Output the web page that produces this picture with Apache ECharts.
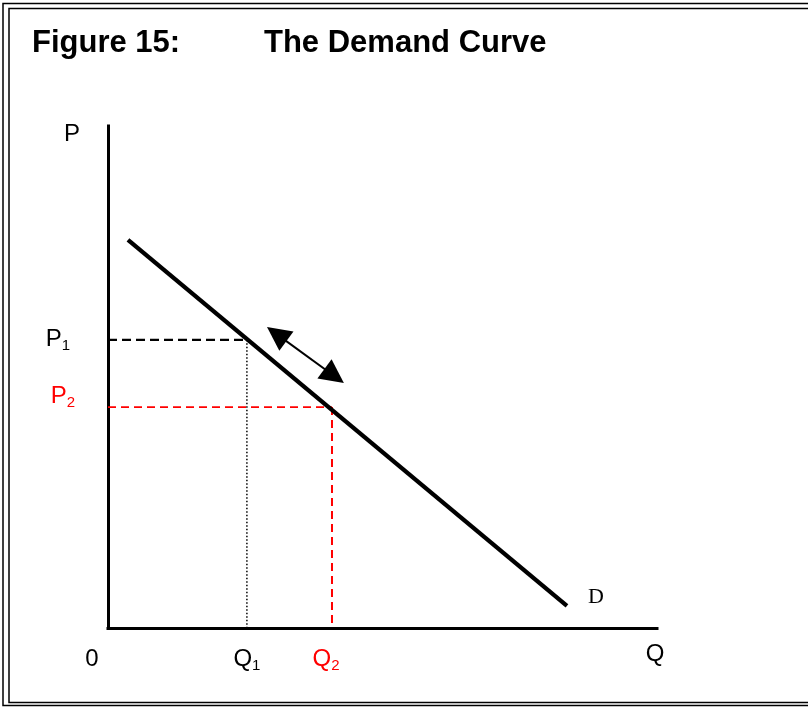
<!DOCTYPE html>
<html>
<head>
<meta charset="utf-8">
<script src="https://cdn.jsdelivr.net/npm/echarts@6/dist/echarts.min.js"></script>
<style>
  html, body { margin: 0; padding: 0; background: #fff; }
  #chart { width: 808px; height: 707px; }
</style>
</head>
<body>
<div id="chart"></div>
<script>
// ---- data (chart units: quantity 0..100, price 0..100) ----
const titleNumber = 'Figure 15:';
const titleText = 'The Demand Curve';
const demandQ = [3.64, 83.6];
const demandP = [77.3, 4.4];
const curveName = 'D';
const P1 = 57.4, Q1 = 25.3;
const P2 = 44.0, Q2 = 40.8;
const arrowQ = [30.73, 41.2];
const arrowP = [58.55, 50.2];
const xTickValues = [0, Q1, Q2];
const xTickLabels = ['{z|0}', '{q|Q}{qs|1}', '{rq|Q}{rqs|2}'];
const yTickValues = [P1, P2];
const yTickLabels = ['{p|P}{ps|1}', '{rp|P}{rps|2}\n{g| }'];
const xName = 'Q';
const yName = 'P';

const FONT = 'Liberation Sans, Arial, sans-serif';
const RED = '#ff0000';

function pick(values, labels, v) {
  let best = 0, d = Infinity;
  values.forEach((x, i) => { if (Math.abs(x - v) < d) { d = Math.abs(x - v); best = i; } });
  return labels[best];
}

const chart = echarts.init(document.getElementById('chart'), null, { renderer: 'canvas' });

const option = {
  animation: false,
  backgroundColor: '#fff',
  title: [
    { text: titleNumber, left: 27, top: 23, padding: 5,
      textStyle: { fontFamily: FONT, fontWeight: 'bold', fontSize: 31, color: '#000' } },
    { text: titleText, left: 259, top: 23, padding: 5,
      textStyle: { fontFamily: FONT, fontWeight: 'bold', fontSize: 31, color: '#000' } }
  ],
  graphic: [
    { type: 'rect', silent: true, shape: { x: 3, y: 3.5, width: 900, height: 702 },
      style: { fill: 'none', stroke: '#000', lineWidth: 1.5 } },
    { type: 'rect', silent: true, shape: { x: 9, y: 8.5, width: 900, height: 694 },
      style: { fill: 'none', stroke: '#000', lineWidth: 1.5 } }
  ],
  grid: { left: 108, right: 151, top: 126, bottom: 79, containLabel: false },
  xAxis: {
    type: 'value', min: 0, max: 100,
    name: xName, nameLocation: 'end', nameGap: -2,
    nameTextStyle: { fontFamily: FONT, fontSize: 24, color: '#000', align: 'center',
      verticalAlign: 'top', lineHeight: 52 },
    axisLine: { show: true, onZero: false, lineStyle: { color: '#000', width: 3, cap: 'square' } },
    axisTick: { show: false },
    splitLine: { show: false },
    axisLabel: {
      customValues: xTickValues,
      margin: 17,
      formatter: v => pick(xTickValues, xTickLabels, v),
      rich: {
        z: { fontFamily: FONT, fontSize: 24, lineHeight: 28, color: '#000', padding: [0, 32, 0, 0] },
        q: { fontFamily: FONT, fontSize: 24, lineHeight: 28, color: '#000' },
        qs: { fontFamily: FONT, fontSize: 15, lineHeight: 18, color: '#000', verticalAlign: 'bottom' },
        rq: { fontFamily: FONT, fontSize: 24, lineHeight: 28, color: RED },
        rqs: { fontFamily: FONT, fontSize: 15, lineHeight: 18, color: RED, verticalAlign: 'bottom', padding: [0, 12, 0, 0] }
      }
    }
  },
  yAxis: {
    type: 'value', min: 0, max: 100,
    name: yName, nameLocation: 'end', nameGap: -8,
    nameTextStyle: { fontFamily: FONT, fontSize: 24, color: '#000', align: 'right',
      verticalAlign: 'middle', padding: [0, 28, 0, 0] },
    axisLine: { show: true, onZero: false, lineStyle: { color: '#000', width: 3, cap: 'square' } },
    axisTick: { show: false },
    splitLine: { show: false },
    axisLabel: {
      customValues: yTickValues,
      margin: 33,
      formatter: v => pick(yTickValues, yTickLabels, v),
      rich: {
        p: { fontFamily: FONT, fontSize: 24, lineHeight: 28, color: '#000' },
        ps: { fontFamily: FONT, fontSize: 15, lineHeight: 18, color: '#000', verticalAlign: 'bottom', padding: [0, 5, 0, 0] },
        rp: { fontFamily: FONT, fontSize: 24, lineHeight: 28, color: RED },
        rps: { fontFamily: FONT, fontSize: 15, lineHeight: 18, color: RED, verticalAlign: 'bottom' },
        g: { fontSize: 10, lineHeight: 22 }
      }
    }
  },
  series: [
    { // P1 guide (black dashed)
      type: 'line', symbol: 'none', silent: true, z: 1,
      data: [[0, P1], [Q1, P1]],
      lineStyle: { color: '#000', width: 2.2, type: [9, 5] }
    },
    { // Q1 guide (black dotted)
      type: 'line', symbol: 'none', silent: true, z: 1,
      data: [[Q1, P1], [Q1, 0]],
      lineStyle: { color: '#000', width: 1.5, type: [1.5, 2] }
    },
    { // P2 guide (red dashed)
      type: 'line', symbol: 'none', silent: true, z: 1,
      data: [[0, P2], [Q2, P2]],
      lineStyle: { color: RED, width: 1.6, type: [8, 5] }
    },
    { // Q2 guide (red dashed)
      type: 'line', symbol: 'none', silent: true, z: 1,
      data: [[Q2, P2], [Q2, 0]],
      lineStyle: { color: RED, width: 2, type: [8, 5] }
    },
    { // demand curve
      type: 'line', symbol: 'none', silent: true, z: 3,
      data: demandQ.map((q, i) => [q, demandP[i]]),
      lineStyle: { color: '#000', width: 4.3, cap: 'butt' },
      endLabel: {
        show: true, formatter: curveName, distance: 5, offset: [16, -9],
        fontFamily: 'Liberation Serif, Times New Roman, serif', fontSize: 22, color: '#000'
      }
    },
    { // movement along the curve (double arrow)
      type: 'lines', coordinateSystem: 'cartesian2d', silent: true, z: 4,
      symbol: ['triangle', 'triangle'], symbolSize: 24,
      data: [{ coords: arrowQ.map((q, i) => [q, arrowP[i]]) }],
      lineStyle: { color: '#000', width: 2, opacity: 1, curveness: 0 }
    }
  ]
};
chart.setOption(option);
</script>
</body>
</html>
